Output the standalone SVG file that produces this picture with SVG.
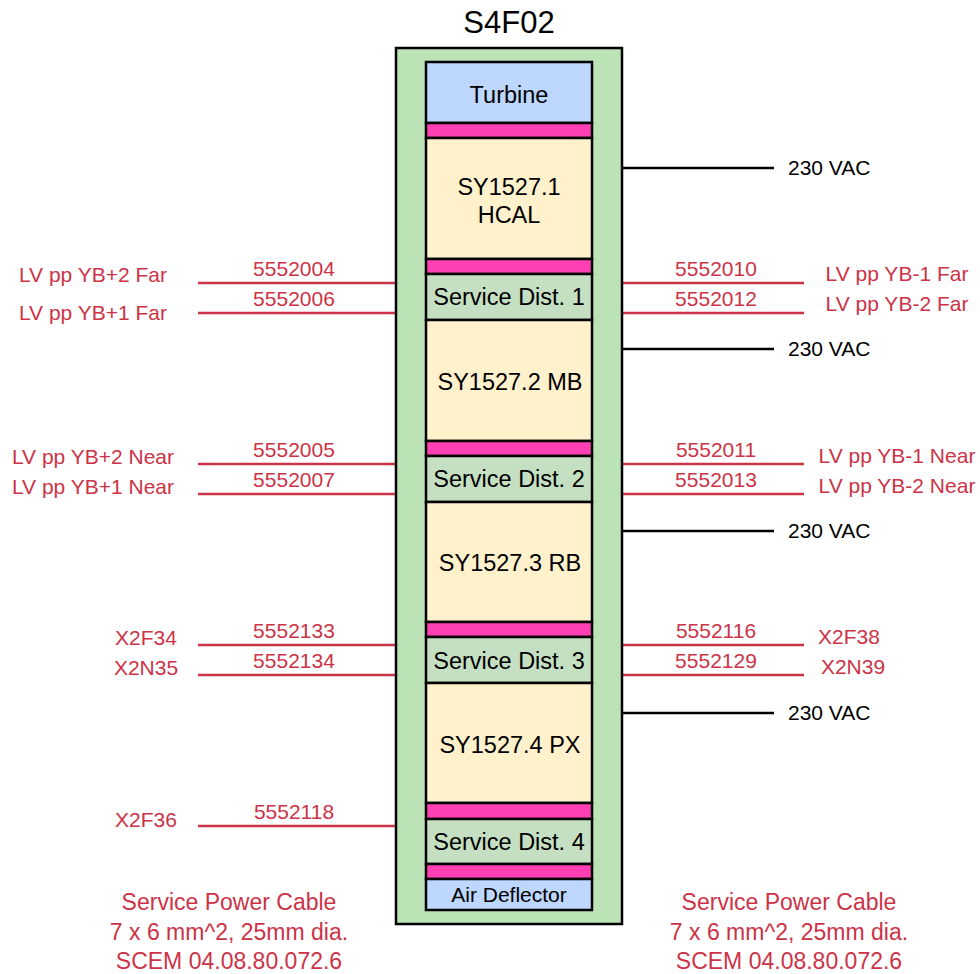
<svg xmlns="http://www.w3.org/2000/svg" width="980" height="974" viewBox="0 0 980 974">
<style>
text{font-family:"Liberation Sans",Arial,sans-serif}
.bx{stroke:#000;stroke-width:2.5}
.rack{fill:#BBE3B5}
.blue{fill:#BDD7FE}
.pink{fill:#FF40B4}
.yel{fill:#FFF1CC}
.sd{fill:#C5DFC2}
.bt{font-size:23.5px;fill:#000;text-anchor:middle}
.lb{font-size:21px;fill:#CC3347;text-anchor:middle}
.vac{font-size:21px;fill:#000}
.rl{stroke:#CC3347;stroke-width:2.5;fill:none}
.kl{stroke:#000;stroke-width:2.5;fill:none}
.ct{font-size:23px;fill:#CC3347;text-anchor:middle}
</style>
<rect width="980" height="974" fill="#fff"/>
<text x="509" y="33" font-size="31" text-anchor="middle" fill="#000">S4F02</text>
<g id="connectors">
<line class="kl" x1="622" y1="168" x2="774" y2="168"/>
<line class="kl" x1="622" y1="349" x2="774" y2="349"/>
<line class="kl" x1="622" y1="531" x2="774" y2="531"/>
<line class="kl" x1="622" y1="713" x2="774" y2="713"/>
<line class="rl" x1="198" y1="283" x2="396" y2="283"/>
<line class="rl" x1="198" y1="313" x2="396" y2="313"/>
<line class="rl" x1="198" y1="464" x2="396" y2="464"/>
<line class="rl" x1="198" y1="494" x2="396" y2="494"/>
<line class="rl" x1="198" y1="645" x2="396" y2="645"/>
<line class="rl" x1="198" y1="675" x2="396" y2="675"/>
<line class="rl" x1="198" y1="826" x2="396" y2="826"/>
<line class="rl" x1="622" y1="283" x2="804" y2="283"/>
<line class="rl" x1="622" y1="313" x2="804" y2="313"/>
<line class="rl" x1="622" y1="464" x2="804" y2="464"/>
<line class="rl" x1="622" y1="494" x2="804" y2="494"/>
<line class="rl" x1="622" y1="645" x2="804" y2="645"/>
<line class="rl" x1="622" y1="675" x2="804" y2="675"/>
<text class="lb" x="294" y="276">5552004</text>
<text class="lb" x="294" y="306">5552006</text>
<text class="lb" x="294" y="457">5552005</text>
<text class="lb" x="294" y="487">5552007</text>
<text class="lb" x="294" y="638">5552133</text>
<text class="lb" x="294" y="668">5552134</text>
<text class="lb" x="294" y="819">5552118</text>
<text class="lb" x="716" y="276">5552010</text>
<text class="lb" x="716" y="306">5552012</text>
<text class="lb" x="716" y="457">5552011</text>
<text class="lb" x="716" y="487">5552013</text>
<text class="lb" x="716" y="638">5552116</text>
<text class="lb" x="716" y="668">5552129</text>
<text class="vac" x="788" y="175">230 VAC</text>
<text class="vac" x="788" y="356">230 VAC</text>
<text class="vac" x="788" y="538">230 VAC</text>
<text class="vac" x="788" y="720">230 VAC</text>
</g>
<g id="labels">
<text class="lb" x="93" y="282">LV pp YB+2 Far</text>
<text class="lb" x="93" y="320">LV pp YB+1 Far</text>
<text class="lb" x="93" y="464">LV pp YB+2 Near</text>
<text class="lb" x="93" y="494">LV pp YB+1 Near</text>
<text class="lb" x="146" y="645">X2F34</text>
<text class="lb" x="146" y="675">X2N35</text>
<text class="lb" x="146" y="827">X2F36</text>
<text class="lb" x="897" y="281">LV pp YB-1 Far</text>
<text class="lb" x="897" y="311">LV pp YB-2 Far</text>
<text class="lb" x="897" y="463">LV pp YB-1 Near</text>
<text class="lb" x="897" y="493">LV pp YB-2 Near</text>
<text class="lb" x="849" y="644">X2F38</text>
<text class="lb" x="853" y="674">X2N39</text>
</g>
<g id="rack"><rect class="bx rack" x="396" y="48" width="226" height="876"/></g>
<g id="turbine"><rect class="bx blue" x="426" y="62" width="166" height="61"/><text class="bt" x="509" y="103">Turbine</text></g>
<g id="spacer1"><rect class="bx pink" x="426" y="123" width="166" height="15"/></g>
<g id="hcal"><rect class="bx yel" x="426" y="138" width="166" height="121"/><text class="bt" x="509" y="195">SY1527.1</text><text class="bt" x="509" y="223">HCAL</text></g>
<g id="spacer2"><rect class="bx pink" x="426" y="259" width="166" height="15"/></g>
<g id="sd1"><rect class="bx sd" x="426" y="274" width="166" height="46"/><text class="bt" x="509" y="305">Service Dist. 1</text></g>
<g id="mb"><rect class="bx yel" x="426" y="320" width="166" height="121"/><text class="bt" x="510" y="390">SY1527.2 MB</text></g>
<g id="spacer3"><rect class="bx pink" x="426" y="441" width="166" height="15"/></g>
<g id="sd2"><rect class="bx sd" x="426" y="456" width="166" height="46"/><text class="bt" x="509" y="487">Service Dist. 2</text></g>
<g id="rb"><rect class="bx yel" x="426" y="502" width="166" height="120"/><text class="bt" x="510" y="571">SY1527.3 RB</text></g>
<g id="spacer4"><rect class="bx pink" x="426" y="622" width="166" height="15"/></g>
<g id="sd3"><rect class="bx sd" x="426" y="637" width="166" height="46"/><text class="bt" x="509" y="669">Service Dist. 3</text></g>
<g id="px"><rect class="bx yel" x="426" y="683" width="166" height="120"/><text class="bt" x="510" y="753">SY1527.4 PX</text></g>
<g id="spacer5"><rect class="bx pink" x="426" y="803" width="166" height="16"/></g>
<g id="sd4"><rect class="bx sd" x="426" y="819" width="166" height="45"/><text class="bt" x="509" y="850">Service Dist. 4</text></g>
<g id="spacer6"><rect class="bx pink" x="426" y="864" width="166" height="15"/></g>
<g id="airdef"><rect class="bx blue" x="426" y="879" width="166" height="31"/><text x="509" y="902" font-size="21" text-anchor="middle" fill="#000">Air Deflector</text></g>
<g id="notes">
<text class="ct" x="229" y="910">Service Power Cable</text>
<text class="ct" x="229" y="940">7 x 6 mm^2, 25mm dia.</text>
<text class="ct" x="229" y="969">SCEM 04.08.80.072.6</text>
<text class="ct" x="789" y="910">Service Power Cable</text>
<text class="ct" x="789" y="940">7 x 6 mm^2, 25mm dia.</text>
<text class="ct" x="789" y="969">SCEM 04.08.80.072.6</text>
</g>
</svg>
